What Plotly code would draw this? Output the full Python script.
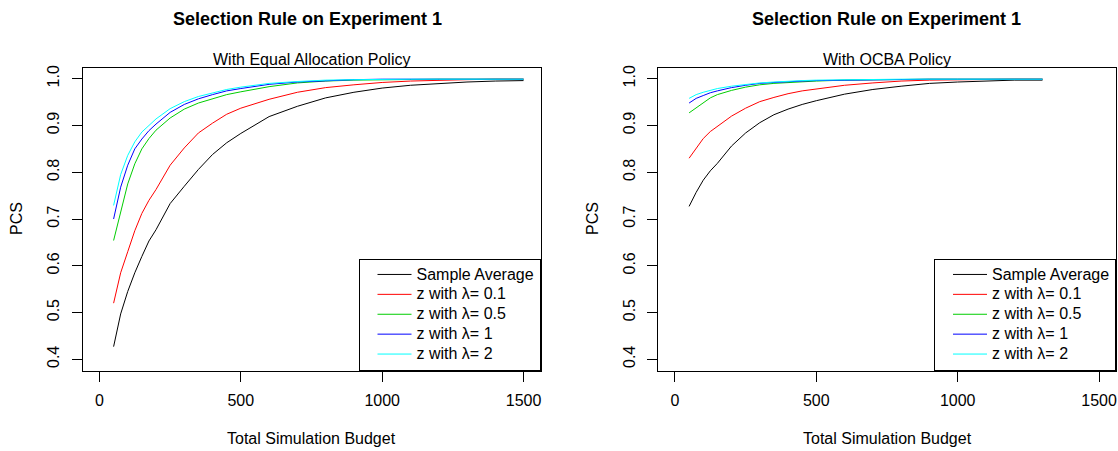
import plotly.graph_objects as go

W, H = 1118, 451

# ---------------- data ----------------
budget_equal = [50, 75, 100, 125, 150, 175, 200, 250, 300, 350, 400, 450, 500,
                600, 700, 800, 900, 1000, 1100, 1200, 1300, 1400, 1500]
eq_sample_average = [0.427, 0.497, 0.545, 0.585, 0.620, 0.653, 0.677, 0.733, 0.770, 0.806, 0.838, 0.863, 0.883,
                     0.919, 0.941, 0.959, 0.971, 0.980, 0.986, 0.990, 0.993, 0.995, 0.996]
eq_lambda_01 = [0.520, 0.585, 0.630, 0.675, 0.712, 0.740, 0.763, 0.815, 0.852, 0.884, 0.905, 0.924, 0.937,
                0.956, 0.971, 0.981, 0.987, 0.992, 0.995, 0.997, 0.998, 0.999, 0.999]
eq_lambda_05 = [0.654, 0.718, 0.775, 0.818, 0.850, 0.872, 0.890, 0.916, 0.935, 0.948, 0.957, 0.966, 0.972,
                0.983, 0.991, 0.995, 0.997, 0.998, 0.999, 0.999, 0.999, 0.999, 0.999]
eq_lambda_1 = [0.700, 0.768, 0.815, 0.850, 0.871, 0.889, 0.903, 0.928, 0.945, 0.957, 0.966, 0.974, 0.979,
               0.988, 0.993, 0.996, 0.998, 0.999, 0.999, 0.999, 0.999, 0.999, 0.999]
eq_lambda_2 = [0.729, 0.795, 0.836, 0.865, 0.886, 0.901, 0.914, 0.936, 0.951, 0.962, 0.970, 0.977, 0.982,
               0.990, 0.994, 0.997, 0.998, 0.999, 0.999, 0.999, 0.999, 0.999, 0.999]

budget_ocba = [50, 75, 100, 125, 150, 200, 250, 300, 350, 400, 450, 500,
               600, 700, 800, 900, 1000, 1100, 1200, 1300]
ocba_sample_average = [0.727, 0.757, 0.783, 0.803, 0.819, 0.856, 0.884, 0.906, 0.923, 0.935, 0.945, 0.953,
                       0.967, 0.977, 0.984, 0.990, 0.993, 0.995, 0.997, 0.997]
ocba_lambda_01 = [0.830, 0.852, 0.872, 0.887, 0.898, 0.920, 0.937, 0.951, 0.960, 0.968, 0.974, 0.978,
                  0.986, 0.991, 0.995, 0.997, 0.998, 0.999, 0.999, 0.999]
ocba_lambda_05 = [0.927, 0.938, 0.948, 0.959, 0.966, 0.975, 0.982, 0.987, 0.990, 0.992, 0.994, 0.995,
                  0.997, 0.998, 0.999, 0.999, 0.999, 0.999, 0.999, 0.999]
ocba_lambda_1 = [0.948, 0.958, 0.964, 0.970, 0.974, 0.981, 0.986, 0.990, 0.992, 0.994, 0.995, 0.996,
                 0.997, 0.998, 0.999, 0.999, 0.999, 0.999, 0.999, 0.999]
ocba_lambda_2 = [0.958, 0.966, 0.971, 0.975, 0.979, 0.984, 0.988, 0.991, 0.993, 0.995, 0.996, 0.997,
                 0.998, 0.999, 0.999, 0.999, 0.999, 0.999, 0.999, 0.999]

series_names = ["Sample Average", "z with λ= 0.1", "z with λ= 0.5", "z with λ= 1", "z with λ= 2"]
series_colors = ["#000000", "#FF0000", "#00CD00", "#0000FF", "#00FFFF"]

x_ticks = [0, 500, 1000, 1500]
y_ticks = [0.4, 0.5, 0.6, 0.7, 0.8, 0.9, 1.0]
y_tick_labels = ["0.4", "0.5", "0.6", "0.7", "0.8", "0.9", "1.0"]

main_title = "Selection Rule on Experiment 1"
sub_titles = ["With Equal Allocation Policy", "With OCBA Policy"]
x_title = "Total Simulation Budget"
y_title = "PCS"

# ---------------- layout helpers ----------------
def px_x(p):
    return p / W

def px_y(p):
    return 1 - p / H

dom_x1 = [px_x(82.5), px_x(540.5)]
dom_x2 = [px_x(658.0), px_x(1116.0)]
dom_y = [px_y(370.5), px_y(67.5)]

FONT = "Liberation Sans, Arial, Helvetica, sans-serif"

fig = go.Figure()

eq_series = [eq_sample_average, eq_lambda_01, eq_lambda_05, eq_lambda_1, eq_lambda_2]
ocba_series = [ocba_sample_average, ocba_lambda_01, ocba_lambda_05, ocba_lambda_1, ocba_lambda_2]


def legend_label(name):
    return '<span style="font-size:16px">' + name + '</span>'


for name, color, vals in zip(series_names, series_colors, eq_series):
    fig.add_trace(go.Scatter(x=budget_equal, y=vals, mode="lines", name=legend_label(name),
                             line=dict(color=color, width=1),
                             xaxis="x", yaxis="y", legend="legend"))
for name, color, vals in zip(series_names, series_colors, ocba_series):
    fig.add_trace(go.Scatter(x=budget_ocba, y=vals, mode="lines", name=legend_label(name),
                             line=dict(color=color, width=1),
                             xaxis="x2", yaxis="y2", legend="legend2"))

xcommon = dict(range=[-60, 1560], tickmode="array", tickvals=x_ticks,
               ticks="outside", ticklen=10, tickwidth=1, tickcolor="black",
               showline=True, mirror=True, linecolor="black", linewidth=1,
               showgrid=False, zeroline=False, tickfont=dict(size=16, color="black"),
               automargin=False, ticklabelstandoff=5)
ycommon = dict(range=[0.376, 1.024], tickmode="array", tickvals=y_ticks, ticktext=y_tick_labels,
               ticks="outside", ticklen=10, tickwidth=1, tickcolor="black",
               showline=True, mirror=True, linecolor="black", linewidth=1,
               showgrid=False, zeroline=False, tickfont=dict(size=16, color="black"),
               tickangle=-90, automargin=False, ticklabelstandoff=6, domain=dom_y)

legend_common = dict(xanchor="right", yanchor="bottom", bordercolor="black", borderwidth=1,
                     bgcolor="white", font=dict(size=13, color="black", family=FONT),
                     itemwidth=34, indentation=13, tracegroupgap=0)

annotations = []
for tx, xref, sub in [(308.0, "x domain", sub_titles[0]), (886.0, "x2 domain", sub_titles[1])]:
    annotations.append(dict(xref="paper", yref="paper", x=px_x(tx), y=px_y(18.5),
                            xanchor="center", yanchor="middle",
                            text="<b>" + main_title + "</b>", showarrow=False,
                            font=dict(size=18, color="black", family=FONT)))
    annotations.append(dict(xref=xref, yref="paper", x=0.5, y=px_y(59.5),
                            xanchor="center", yanchor="middle",
                            text=sub, showarrow=False, font=dict(size=16, color="black", family=FONT)))
    annotations.append(dict(xref=xref, yref="paper", x=0.5, y=px_y(438.5),
                            xanchor="center", yanchor="middle",
                            text=x_title, showarrow=False, font=dict(size=16, color="black", family=FONT)))
for xpix, yref in [(16, "y domain"), (592.0, "y2 domain")]:
    annotations.append(dict(xref="paper", yref=yref, x=px_x(xpix), y=0.5, xanchor="center",
                            yanchor="middle", text=y_title, textangle=-90, showarrow=False,
                            font=dict(size=16, color="black", family=FONT)))

fig.update_layout(
    width=W, height=H,
    margin=dict(l=0, r=0, t=0, b=0),
    paper_bgcolor="white", plot_bgcolor="white",
    font=dict(family=FONT, color="black"),
    showlegend=True,
    xaxis=dict(domain=dom_x1, anchor="y", **xcommon),
    xaxis2=dict(domain=dom_x2, anchor="y2", **xcommon),
    yaxis=dict(anchor="x", **ycommon),
    yaxis2=dict(anchor="x2", **ycommon),
    legend=dict(x=dom_x1[1], y=dom_y[0], **legend_common),
    legend2=dict(x=dom_x2[1], y=dom_y[0], **legend_common),
    annotations=annotations,
)

fig.write_html("out.html", config={"displayModeBar": False},
               post_script="document.body.style.margin='0';document.body.style.overflow='hidden';")
